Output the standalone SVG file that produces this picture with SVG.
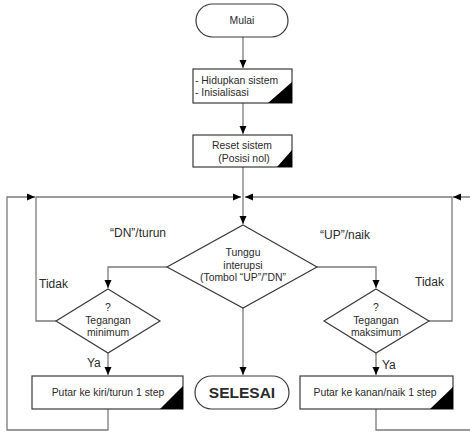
<svg xmlns="http://www.w3.org/2000/svg" width="470" height="432" viewBox="0 0 470 432">
<style>
.shape{fill:#fff;stroke:#3a3a3a;stroke-width:1.2}
.corner{fill:#000;stroke:none}
.conn{fill:none;stroke:#7a7a7a;stroke-width:1.3}
text{font-family:"Liberation Sans",Arial,sans-serif;fill:#2a2a2a}
.t10{font-size:10.4px}
.t12{font-size:12px}
.mid{text-anchor:middle}
</style>
<defs>
<marker id="arr" markerUnits="userSpaceOnUse" markerWidth="9" markerHeight="8" refX="8" refY="4" orient="auto">
<path d="M0,0.5 L8,4 L0,7.5 Z" fill="#000"/>
</marker>
</defs>
<rect width="470" height="432" fill="#fff"/>
<g id="connectors">
<path class="conn" d="M243,37 V68" marker-end="url(#arr)"/>
<path class="conn" d="M243,103 V134" marker-end="url(#arr)"/>
<path class="conn" d="M243,167 V224" marker-end="url(#arr)"/>
<path class="conn" d="M56,321 H36 V197 H241" marker-end="url(#arr)"/>
<path class="conn" d="M108,409 V430 H7 V197 H35" marker-end="url(#arr)"/>
<path class="conn" d="M167,267 H108 V288" marker-end="url(#arr)"/>
<path class="conn" d="M317,267 H376 V288" marker-end="url(#arr)"/>
<path class="conn" d="M108,353 V375" marker-end="url(#arr)"/>
<path class="conn" d="M376,353 V375" marker-end="url(#arr)"/>
<path class="conn" d="M429,321 H452 V197 H245" marker-end="url(#arr)"/>
<path class="conn" d="M376,409 V430 H474 V197 H453" marker-end="url(#arr)"/>
<path class="conn" d="M243,308 V375" marker-end="url(#arr)"/>
</g>
<g id="mulai">
<rect class="shape" x="196" y="4" width="92" height="33" rx="16.5"/>
<text class="t10 mid" x="242" y="23.5">Mulai</text>
</g>
<g id="init">
<rect class="shape" x="193" y="69" width="99" height="34"/>
<polygon class="corner" points="268,103 292,82 292,103"/>
<text class="t10" x="195" y="83.5">-  Hidupkan sistem</text>
<text class="t10" x="195" y="95.5">-  Inisialisasi</text>
</g>
<g id="reset">
<rect class="shape" x="193" y="135" width="99" height="32"/>
<polygon class="corner" points="277,167 292,150 292,167"/>
<text class="t10 mid" x="242" y="149">Reset sistem</text>
<text class="t10 mid" x="244" y="162">(Posisi nol)</text>
</g>
<g id="tunggu">
<polygon class="shape" points="243,225 317,267 243,308 167,267"/>
<text class="t10 mid" x="243" y="256">Tunggu</text>
<text class="t10 mid" x="243" y="268.5">interupsi</text>
<text class="t10 mid" x="243" y="281">(Tombol “UP”/”DN”</text>
</g>
<g id="cek-min">
<polygon class="shape" points="108,289 160,321 108,353 56,321"/>
<text class="t10 mid" x="108" y="311">?</text>
<text class="t10 mid" x="108" y="323.5">Tegangan</text>
<text class="t10 mid" x="108" y="336">minimum</text>
</g>
<g id="cek-max">
<polygon class="shape" points="376,289 429,321 376,353 324,321"/>
<text class="t10 mid" x="376" y="311">?</text>
<text class="t10 mid" x="376" y="323.5">Tegangan</text>
<text class="t10 mid" x="376" y="336">maksimum</text>
</g>
<g id="putar-kiri">
<rect class="shape" x="32" y="376" width="151" height="33"/>
<polygon class="corner" points="160,409 183,386 183,409"/>
<text class="t10 mid" x="108" y="396">Putar ke kiri/turun 1 step</text>
</g>
<g id="selesai">
<rect class="shape" x="195" y="376" width="94" height="33" rx="16.5"/>
<text class="mid" x="242" y="398" style="font-size:15.5px;font-weight:bold">SELESAI</text>
</g>
<g id="putar-kanan">
<rect class="shape" x="300" y="376" width="153" height="33"/>
<polygon class="corner" points="430,409 453,387 453,409"/>
<text class="t10 mid" x="375" y="396">Putar ke kanan/naik 1 step</text>
</g>
<g id="labels">
<text class="t12 mid" x="138" y="237">“DN”/turun</text>
<text class="t12 mid" x="345" y="239">“UP”/naik</text>
<text class="t12" x="39" y="288">Tidak</text>
<text class="t12" x="415" y="286">Tidak</text>
<text class="t12" x="87" y="367">Ya</text>
<text class="t12" x="382" y="369">Ya</text>
</g>
</svg>
